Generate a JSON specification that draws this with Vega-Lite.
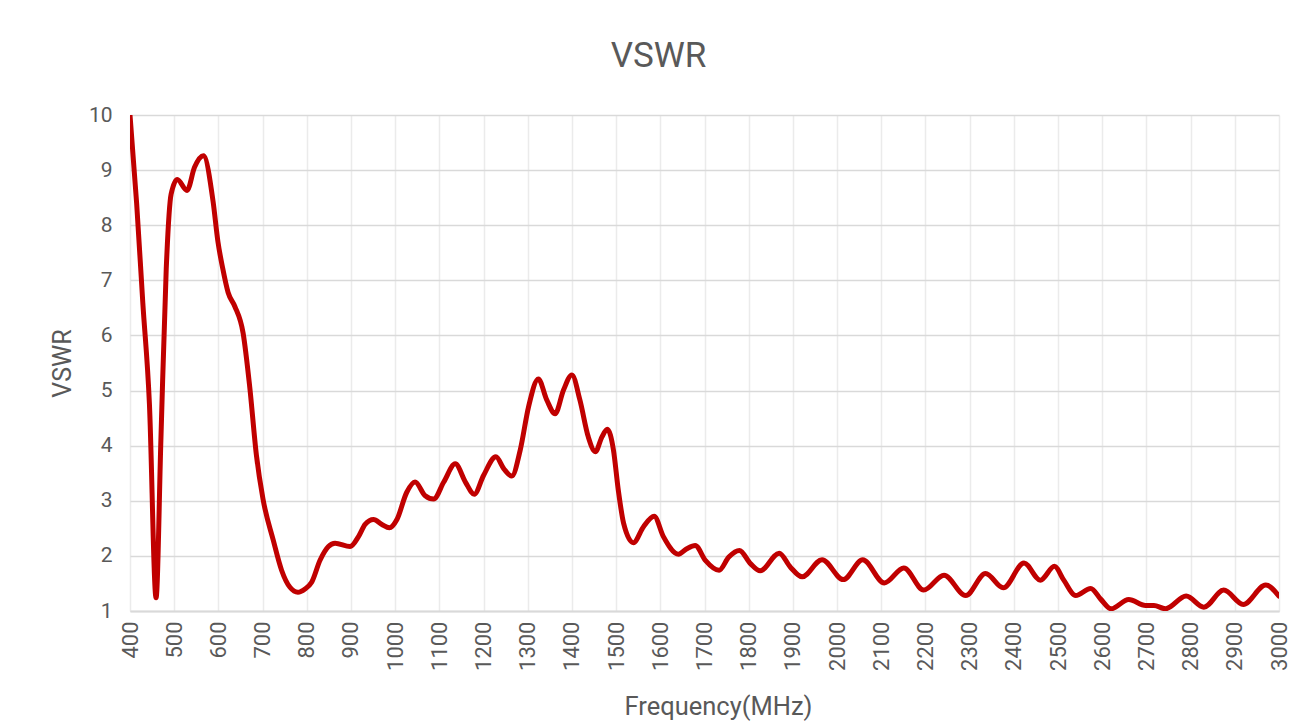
{
  "$schema": "https://vega.github.io/schema/vega-lite/v6.json",
  "width": 1149,
  "height": 496,
  "autosize": {"type": "none"},
  "padding": {"left": 130, "top": 115, "right": 31, "bottom": 111},
  "background": "white",
  "title": {
    "text": "VSWR",
    "anchor": "middle",
    "dx": -46,
    "offset": 2,
    "baseline": "alphabetic",
    "font": "Roboto",
    "fontSize": 35,
    "fontWeight": "normal",
    "color": "#595959"
  },
  "config": {
    "view": {"stroke": null},
    "font": "Roboto"
  },
  "data": {
    "values": [
      {"f": 400, "v": 10},
      {"f": 415, "v": 8.4},
      {"f": 429, "v": 6.59},
      {"f": 444, "v": 4.75},
      {"f": 459, "v": 1.24},
      {"f": 470, "v": 4.13},
      {"f": 482, "v": 7.21},
      {"f": 493, "v": 8.56},
      {"f": 507, "v": 8.83},
      {"f": 529, "v": 8.63},
      {"f": 546, "v": 9.05},
      {"f": 566, "v": 9.26},
      {"f": 588, "v": 8.43},
      {"f": 599, "v": 7.7},
      {"f": 610, "v": 7.21},
      {"f": 622, "v": 6.78},
      {"f": 637, "v": 6.53},
      {"f": 656, "v": 6.04},
      {"f": 671, "v": 5.06},
      {"f": 686, "v": 3.83},
      {"f": 701, "v": 3.03},
      {"f": 724, "v": 2.29},
      {"f": 743, "v": 1.74},
      {"f": 762, "v": 1.43},
      {"f": 780, "v": 1.34},
      {"f": 796, "v": 1.4},
      {"f": 811, "v": 1.52},
      {"f": 830, "v": 1.92},
      {"f": 849, "v": 2.17},
      {"f": 864, "v": 2.23},
      {"f": 898, "v": 2.17},
      {"f": 917, "v": 2.35},
      {"f": 932, "v": 2.57},
      {"f": 951, "v": 2.66},
      {"f": 970, "v": 2.57},
      {"f": 987, "v": 2.51},
      {"f": 1004, "v": 2.66},
      {"f": 1026, "v": 3.15},
      {"f": 1045, "v": 3.34},
      {"f": 1068, "v": 3.09},
      {"f": 1087, "v": 3.03},
      {"f": 1110, "v": 3.34},
      {"f": 1136, "v": 3.67},
      {"f": 1159, "v": 3.34},
      {"f": 1179, "v": 3.12},
      {"f": 1200, "v": 3.46},
      {"f": 1228, "v": 3.8},
      {"f": 1246, "v": 3.58},
      {"f": 1264, "v": 3.45},
      {"f": 1283, "v": 3.92},
      {"f": 1302, "v": 4.71},
      {"f": 1324, "v": 5.21},
      {"f": 1343, "v": 4.83},
      {"f": 1362, "v": 4.58},
      {"f": 1381, "v": 5.01},
      {"f": 1400, "v": 5.28},
      {"f": 1418, "v": 4.83},
      {"f": 1437, "v": 4.16},
      {"f": 1453, "v": 3.89},
      {"f": 1468, "v": 4.16},
      {"f": 1480, "v": 4.3},
      {"f": 1494, "v": 3.92},
      {"f": 1505, "v": 3.19},
      {"f": 1517, "v": 2.59},
      {"f": 1539, "v": 2.24},
      {"f": 1562, "v": 2.53},
      {"f": 1586, "v": 2.72},
      {"f": 1607, "v": 2.35},
      {"f": 1641, "v": 2.03},
      {"f": 1660, "v": 2.13},
      {"f": 1679, "v": 2.19},
      {"f": 1702, "v": 1.92},
      {"f": 1733, "v": 1.74},
      {"f": 1755, "v": 1.98},
      {"f": 1779, "v": 2.1},
      {"f": 1804, "v": 1.86},
      {"f": 1826, "v": 1.73},
      {"f": 1869, "v": 2.05},
      {"f": 1894, "v": 1.8},
      {"f": 1921, "v": 1.62},
      {"f": 1966, "v": 1.93},
      {"f": 2014, "v": 1.57},
      {"f": 2058, "v": 1.93},
      {"f": 2107, "v": 1.51},
      {"f": 2151, "v": 1.78},
      {"f": 2196, "v": 1.38},
      {"f": 2242, "v": 1.65},
      {"f": 2291, "v": 1.28},
      {"f": 2336, "v": 1.68},
      {"f": 2376, "v": 1.42},
      {"f": 2423, "v": 1.87},
      {"f": 2460, "v": 1.56},
      {"f": 2492, "v": 1.81},
      {"f": 2513, "v": 1.56},
      {"f": 2540, "v": 1.28},
      {"f": 2574, "v": 1.41},
      {"f": 2596, "v": 1.22},
      {"f": 2620, "v": 1.04},
      {"f": 2660, "v": 1.21},
      {"f": 2698, "v": 1.1},
      {"f": 2717, "v": 1.1},
      {"f": 2743, "v": 1.04},
      {"f": 2790, "v": 1.27},
      {"f": 2830, "v": 1.07},
      {"f": 2875, "v": 1.38},
      {"f": 2919, "v": 1.12},
      {"f": 2970, "v": 1.47},
      {"f": 3000, "v": 1.27}
    ]
  },
  "mark": {
    "type": "line",
    "interpolate": "monotone",
    "color": "#C00000",
    "strokeWidth": 5,
    "strokeCap": "round",
    "strokeJoin": "round",
    "clip": true
  },
  "encoding": {
    "x": {
      "field": "f",
      "type": "quantitative",
      "title": "Frequency(MHz)",
      "scale": {"domain": [400, 3000], "nice": false, "zero": false},
      "axis": {
        "values": [400,500,600,700,800,900,1000,1100,1200,1300,1400,1500,1600,1700,1800,1900,2000,2100,2200,2300,2400,2500,2600,2700,2800,2900,3000],
        "format": "d",
        "labelAngle": -90,
        "labelAlign": "right",
        "labelBaseline": "middle",
        "labelPadding": 10,
        "labelFontSize": 22,
        "labelColor": "#595959",
        "labelFont": "Roboto",
        "ticks": false,
        "domain": true,
        "domainColor": "#D9D9D9",
        "domainWidth": 2,
        "grid": true,
        "gridColor": "#EBEBEB",
        "gridWidth": 1.5,
        "labelFlush": false,
        "labelOverlap": false,
        "titleFontSize": 25.5,
        "titleFontWeight": "normal",
        "titleColor": "#595959",
        "titleFont": "Roboto",
        "titlePadding": 24,
        "titleX": 588
      }
    },
    "y": {
      "field": "v",
      "type": "quantitative",
      "title": "VSWR",
      "scale": {"domain": [1, 10], "nice": false, "zero": false},
      "axis": {
        "values": [1,2,3,4,5,6,7,8,9,10],
        "labelPadding": 18,
        "labelFontSize": 21,
        "labelColor": "#595959",
        "labelFont": "Roboto",
        "ticks": false,
        "domain": false,
        "grid": true,
        "gridColor": "#D9D9D9",
        "gridWidth": 1.5,
        "labelFlush": false,
        "titleFontSize": 25,
        "titleFontWeight": "normal",
        "titleColor": "#595959",
        "titleFont": "Roboto",
        "titlePadding": 13
      }
    }
  }
}
